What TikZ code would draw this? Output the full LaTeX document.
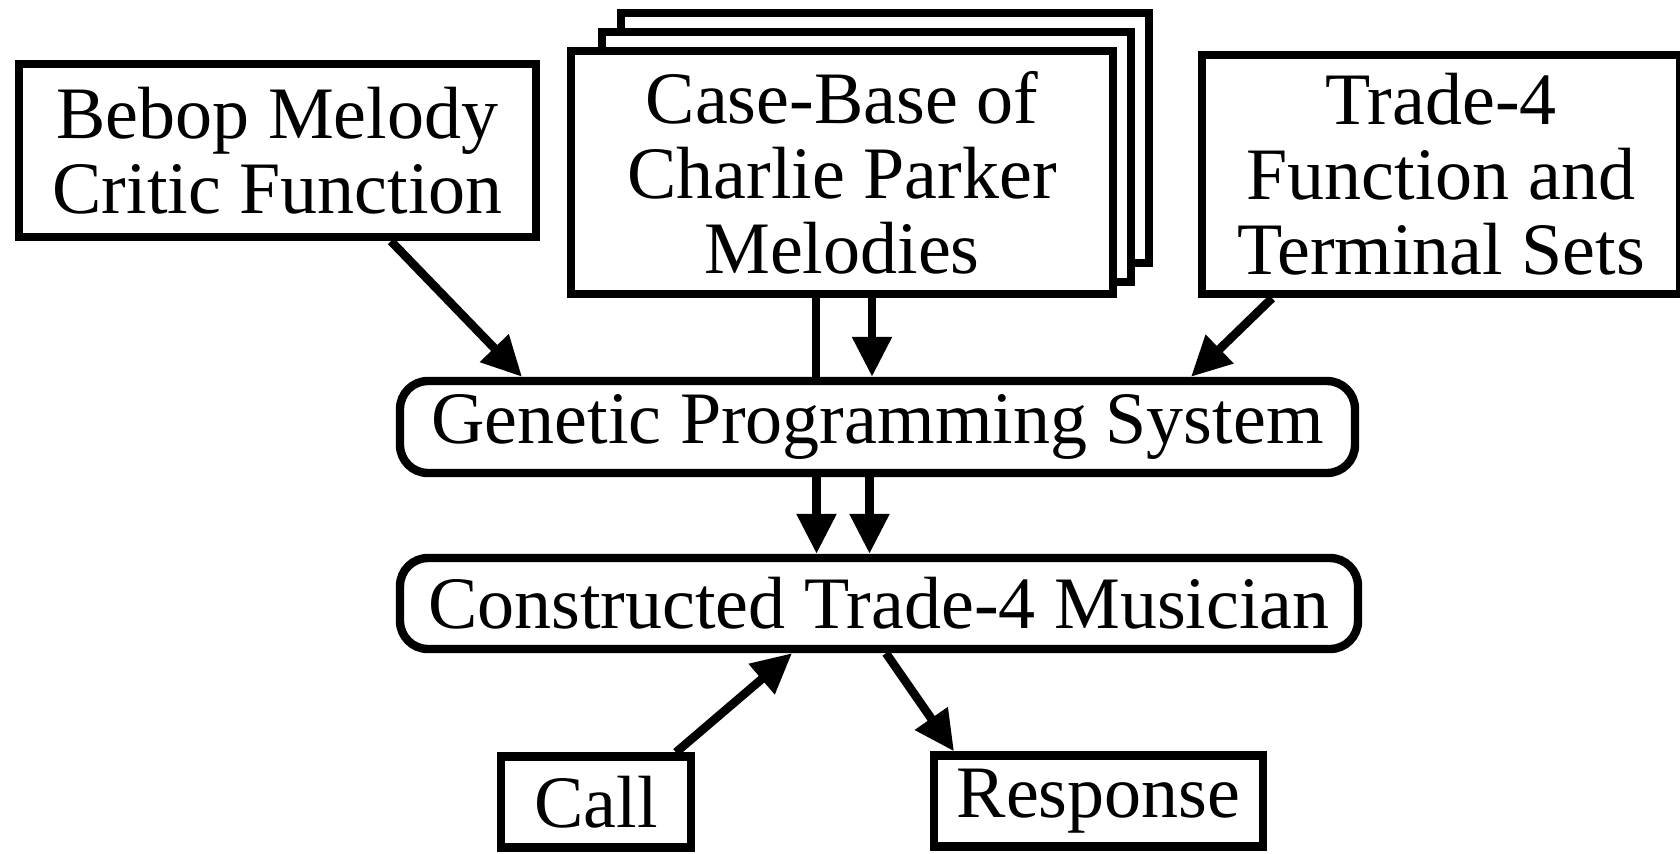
\documentclass[tikz,border=0pt]{standalone}
\usepackage{fontspec}
\setmainfont{Liberation Serif}
\usetikzlibrary{arrows.meta}
\begin{document}
\begin{tikzpicture}[x=0.5pt,y=-0.5pt,
  box/.style={draw, line width=4.2pt, inner sep=0pt, align=center, fill=white,
    font=\fontsize{37}{37.5}\selectfont},
  rbox/.style={box, rounded corners=14pt},
  stackbox/.style={draw, line width=4.2pt, fill=white},
  arr/.style={line width=4.3pt, -{Triangle[length=20pt,width=19pt]}},
  plain/.style={line width=4.3pt}]
\useasboundingbox (0,0) rectangle (1680,853);
% stacked sheets behind the case-base
\draw[stackbox] (621,13) rectangle (1149,263);
\draw[stackbox] (602,32) rectangle (1131,282);
% nodes
\node[box, minimum width=258.5pt, minimum height=86.5pt] (bebop) at (277.5,150.5) {Bebop Melody\\Critic Function};
\node[box, minimum width=271pt, minimum height=121.5pt] (case) at (842,172.5) {Case-Base of\\Charlie Parker\\Melodies};
\node[box, minimum width=239pt, minimum height=119.5pt] (trade) at (1441,174.5) {Trade-4\\Function and\\Terminal Sets};
\node[rbox, minimum width=477.5pt, minimum height=46pt] (gp) at (877.5,427) {Genetic Programming System};
\node[rbox, minimum width=479pt, minimum height=45.5pt] (cons) at (879,603.5) {Constructed Trade-4 Musician};
\node[box, minimum width=95pt, minimum height=45.5pt] (call) at (596,802) {Call};
\node[box, minimum width=164.5pt, minimum height=45.5pt] (resp) at (1098.5,801) {Response};
% connector end points
\coordinate (c1) at ([xshift=-13pt]case.south);
\coordinate (c2) at ([xshift=15pt]case.south);
\coordinate (g1) at ([xshift=-30.5pt]gp.south);
\coordinate (g2) at ([xshift=-4pt]gp.south);
% connectors
\draw[arr] ([xshift=56.75pt]bebop.south) -- ([xshift=-177.75pt]gp.north);
\draw[plain] (c1) -- (c1 |- gp.north);
\draw[arr] (c2) -- (c2 |- gp.north);
\draw[arr] ([xshift=-84.5pt]trade.south) -- ([xshift=156.75pt]gp.north);
\draw[arr] (g1) -- (g1 |- cons.north);
\draw[arr] (g2) -- (g2 |- cons.north);
\draw[arr] ([xshift=40pt]call.north) -- ([xshift=-43.5pt]cons.south);
\draw[arr] ([xshift=3.5pt]cons.south) -- ([xshift=-72.25pt]resp.north);
\end{tikzpicture}
\end{document}
